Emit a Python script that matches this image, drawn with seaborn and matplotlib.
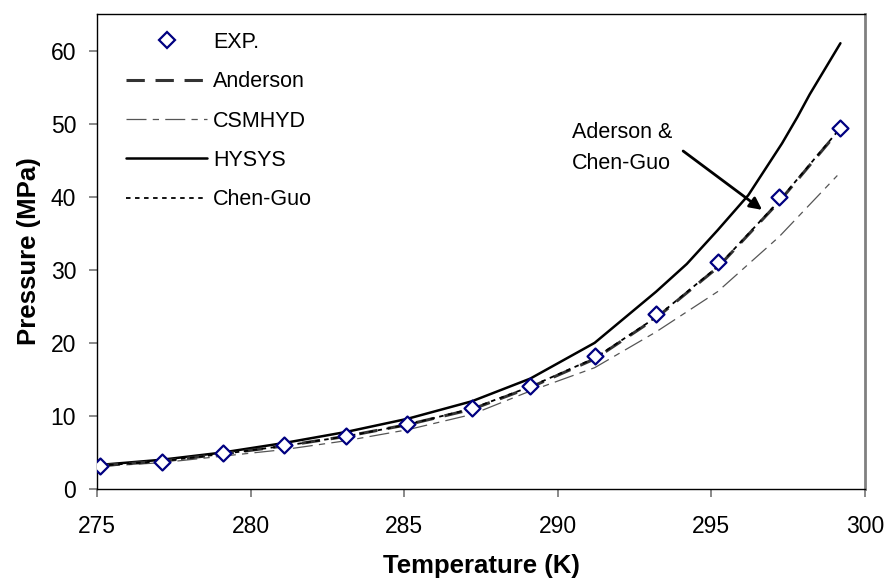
import matplotlib
matplotlib.use("Agg")
import matplotlib.pyplot as plt
from matplotlib.lines import Line2D
import seaborn as sns
import numpy as np

# ---- data ----
exp_T = [275.1, 277.1, 279.1, 281.1, 283.1, 285.1, 287.2, 289.1, 291.2, 293.2, 295.2, 297.2, 299.2]
exp_P = [3.1, 3.7, 4.9, 6.0, 7.3, 8.9, 11.1, 14.1, 18.2, 24.0, 31.1, 39.9, 49.4]

anderson_T = [275.1, 277.1, 279.1, 281.1, 283.1, 285.1, 287.2, 289.1, 291.2, 293.2, 295.2, 297.2, 299.2]
anderson_P = [3.2, 3.8, 4.8, 5.9, 7.2, 8.8, 10.9, 13.9, 17.8, 23.4, 30.3, 39.3, 49.3]

csmhyd_T = [275.1, 277.1, 279.1, 281.1, 283.1, 285.1, 287.2, 289.1, 291.2, 293.2, 295.2, 297.2, 299.1]
csmhyd_P = [3.1, 3.6, 4.5, 5.4, 6.6, 8.1, 10.2, 13.4, 16.6, 21.5, 27.0, 34.5, 42.9]

hysys_T = [275.1, 277.1, 279.1, 281.1, 283.1, 285.1, 287.2, 289.1, 291.2, 293.2, 294.2, 295.2, 296.2, 297.3, 297.8, 298.2, 299.2]
hysys_P = [3.3, 4.0, 5.0, 6.3, 7.8, 9.6, 12.0, 15.1, 20.0, 27.0, 30.8, 35.4, 40.2, 47.3, 50.9, 54.0, 61.0]

chenguo_T = [275.1, 277.1, 279.1, 281.1, 283.1, 285.1, 287.2, 289.1, 291.2, 293.2, 295.2, 297.2, 299.2]
chenguo_P = [3.2, 3.8, 4.8, 5.9, 7.2, 8.8, 11.0, 14.0, 17.9, 23.5, 30.4, 39.4, 49.4]

x_ticks = [275, 280, 285, 290, 295, 300]
y_ticks = [0, 10, 20, 30, 40, 50, 60]

# ---- style ----
sns.set_theme(style="white")
plt.rcParams['font.family'] = ['Liberation Sans', 'DejaVu Sans']
plt.rcParams['text.color'] = 'black'
plt.rcParams['axes.labelcolor'] = 'black'

fig = plt.figure(figsize=(8.89, 5.85), dpi=100)
ax = fig.add_axes([97/889, 1-489/585, (865-97)/889, (489-14)/585])

sty_and = dict(color='#333333', lw=2.2, linestyle=(0, (6, 3.5)))
sty_csm = dict(color='#555555', lw=0.9, linestyle=(0, (16, 5, 5, 5)))
sty_hys = dict(color='black', lw=1.8, linestyle='-')
sty_chg = dict(color='black', lw=1.3, linestyle=(0, (2.5, 2.5)))

sns.lineplot(x=csmhyd_T, y=csmhyd_P, ax=ax, sort=False, **sty_csm)
sns.lineplot(x=hysys_T, y=hysys_P, ax=ax, sort=False, **sty_hys)
sns.lineplot(x=anderson_T, y=anderson_P, ax=ax, sort=False, **sty_and)
sns.lineplot(x=chenguo_T, y=chenguo_P, ax=ax, sort=False, **sty_chg)
sns.scatterplot(x=exp_T, y=exp_P, ax=ax, marker='D', s=66, facecolor='white',
                edgecolor='#000080', linewidth=1.6, zorder=5)

ax.set_xlim(275, 300)
ax.set_ylim(0, 65)
ax.set_xticks(x_ticks)
ax.set_yticks(y_ticks)
ax.set_xticklabels([str(t) for t in x_ticks])
ax.set_yticklabels([str(t) for t in y_ticks])
ax.tick_params(axis='both', direction='out', length=6, width=1.3, color='#808080',
               labelsize=16.5, labelcolor='black', bottom=True, left=True)
ax.tick_params(axis='x', pad=13)
ax.tick_params(axis='y', pad=9)

for s in ['left', 'bottom', 'top']:
    ax.spines[s].set_color('black')
    ax.spines[s].set_linewidth(1.0)
ax.spines['right'].set_color('#808080')
ax.spines['right'].set_linewidth(2.0)

ax.set_xlabel('Temperature (K)', fontsize=18.5, fontweight='bold', labelpad=11, color='black')
ax.set_ylabel('Pressure (MPa)', fontsize=18.5, fontweight='bold', labelpad=7, color='black')

handles = [
    Line2D([], [], linestyle='none', marker='D', markersize=7.8, markerfacecolor='white',
           markeredgecolor='#000080', markeredgewidth=1.6),
    Line2D([], [], **sty_and),
    Line2D([], [], **sty_csm),
    Line2D([], [], **sty_hys),
    Line2D([], [], **sty_chg),
]
labels = ['EXP.', 'Anderson', 'CSMHYD', 'HYSYS', 'Chen-Guo']
fig.legend(handles, labels, loc='upper left', bbox_to_anchor=(126/889, 1-32/585),
           frameon=False, fontsize=15.5, handlelength=3.77, handletextpad=0.28,
           labelspacing=0.85, borderpad=0, borderaxespad=0)

ax.text(290.46, 46.7, 'Aderson &\nChen-Guo', fontsize=15.5, ha='left', va='center',
        linespacing=1.6)
ax.annotate('', xy=(296.65, 38.2), xytext=(294.08, 46.25),
            arrowprops=dict(arrowstyle='-|>', lw=2, color='black', mutation_scale=18,
                            shrinkA=0, shrinkB=0))

fig.savefig('out.png', dpi=100)
